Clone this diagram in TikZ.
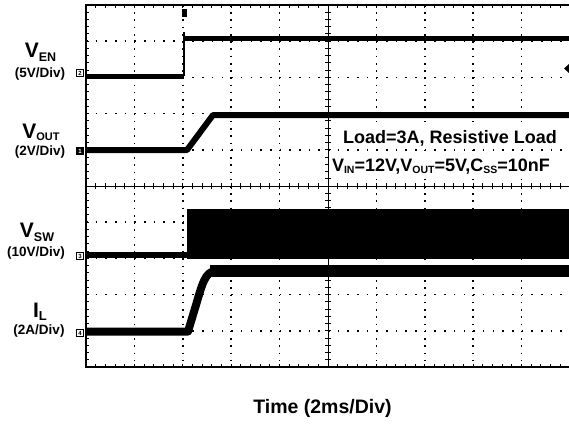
\documentclass[tikz,border=0pt]{standalone}
\usepackage{amsmath,amssymb,mathtools}
\usepackage{fontspec}
\setmainfont{Liberation Sans}
\usetikzlibrary{positioning}

\newcommand{\lowtext}[3]{\raisebox{-#2}{\fontsize{#1}{#1}\selectfont #3}}

\begin{document}
\begin{tikzpicture}[x=1pt, y=-1pt,
        wave/.style={line width=5pt, line join=round},
        lbl/.style={anchor=base, inner sep=0pt, font=\bfseries},
        chmark/.style={rectangle, draw=black, line width=0.6pt, inner sep=0.3pt, minimum size=7pt, font=\fontsize{6}{6}\selectfont\bfseries}]
        \useasboundingbox (0,0) rectangle (569,428);

        % graticule
        \foreach \i in {1,2,3,4,6,7,8,9} {
            \draw[line width=1.6pt, dash pattern=on 1.6pt off 5.64pt] (86+\i*48.4,5) -- (86+\i*48.4,367);
            \draw[line width=1.6pt, dash pattern=on 1.6pt off 8.08pt] (86,5+\i*36.2) -- (570,5+\i*36.2);
        }
        \draw[line width=1pt] (328,5) -- (328,367) (86,186) -- (570,186);
        \foreach \i in {1,...,49} {
            \draw[line width=1pt] (86+\i*9.68,5) -- ++(0,3.5) (86+\i*9.68,367) -- ++(0,-3.5) (86+\i*9.68,183) -- ++(0,6);
            \draw[line width=1pt] (86,5+\i*7.24) -- ++(3,0) (325,5+\i*7.24) -- ++(6,0);
        }
        \draw[line width=1.5pt] (570,5) -- (86,5) -- (86,367) -- (570,367);

        % traces
        \draw[wave] (86,76) -- (184,76);
        \draw[line width=1.5pt] (184,76) -- (184,32);
        \draw[wave] (185,39) -- (570,39);
        \fill (182,9) rectangle (187,17);
        \fill (569,64) -- (564,68.5) -- (569,73) -- cycle;

        \draw[wave, line width=6pt] (86,150) -- (187,150) -- (213,115) -- (570,115);

        \draw[wave, line width=6pt] (86,254.5) -- (187,254.5);
        \fill (186.5,209) rectangle (570,259);

        \draw[wave, line width=8pt] (86,331.5) -- (188,331.5) -- (196,305) .. controls (202,285) and (205,271) .. (216,271);
        \fill (210,265) rectangle (570,277);

        % channel labels
        \node[lbl] (1) at (40.5,57) {\fontsize{21}{21}\selectfont V\lowtext{12.5}{4.5pt}{EN}};
        \node[lbl] (2) at (40,77.3) {\fontsize{13.5}{13.5}\selectfont (5V/Div)};
        \node[lbl] (3) at (41,138) {\fontsize{21}{21}\selectfont V\lowtext{11}{2pt}{OUT}};
        \node[lbl] (4) at (40,155) {\fontsize{13.5}{13.5}\selectfont (2V/Div)};
        \node[lbl] (5) at (37,237) {\fontsize{21}{21}\selectfont V\lowtext{12.5}{4.5pt}{SW}};
        \node[lbl] (6) at (36,256.5) {\fontsize{13.5}{13.5}\selectfont (10V/Div)};
        \node[lbl] (7) at (40,317) {\fontsize{21}{21}\selectfont I\lowtext{13}{3.5pt}{L}};
        \node[lbl] (8) at (39,334) {\fontsize{13.5}{13.5}\selectfont (2A/Div)};

        \node[chmark] (9) at (80,73) {2};
        \node[chmark, fill=black, text=white] (10) at (80,151) {1};
        \node[chmark] (11) at (80,256) {3};
        \node[chmark] (12) at (80,333) {4};

        % test conditions
        \node[lbl, fill=white, inner sep=3pt, font=\bfseries\fontsize{18}{18}\selectfont] (13) at (450,143) {Load=3A, Resistive Load};
        \node[lbl, fill=white, inner sep=3pt, font=\bfseries\fontsize{18}{18}\selectfont] (14) at (441,171) {V\lowtext{10.5}{2.5pt}{IN}=12V,V\lowtext{10.5}{2.5pt}{OUT}=5V,C\lowtext{10.5}{2.5pt}{SS}=10nF};
        \node[lbl, font=\bfseries\fontsize{19.5}{19.5}\selectfont] (15) at (322.5,413) {Time (2ms/Div)};
    \end{tikzpicture}
\end{document}
